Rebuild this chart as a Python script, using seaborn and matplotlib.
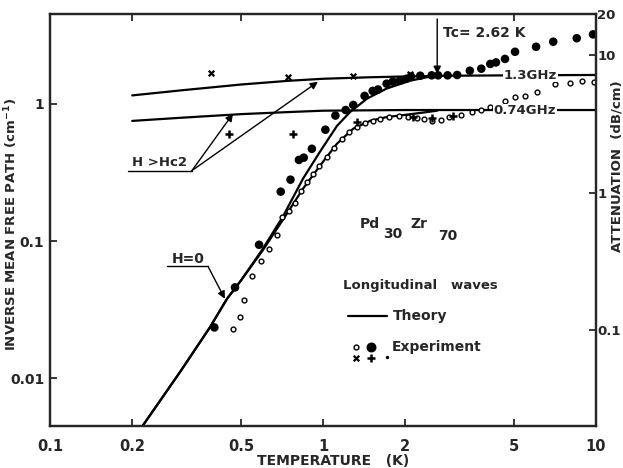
import matplotlib
matplotlib.use('Agg')
import matplotlib.pyplot as plt
import seaborn as sns

sns.set_style('ticks')
plt.rcParams['font.family'] = ['DejaVu Sans']
plt.rcParams['font.weight'] = 'bold'
plt.rcParams['mathtext.fontset'] = 'custom'
plt.rcParams['mathtext.rm'] = 'DejaVu Sans:bold'
plt.rcParams['mathtext.it'] = 'DejaVu Sans:bold'
plt.rcParams['mathtext.bf'] = 'DejaVu Sans:bold'

# Theory, normal state (H > Hc2)
t_norm_13 = [0.2, 0.3, 0.5, 0.75, 1, 1.5, 2, 3, 5, 10]
v_norm_13 = [1.15, 1.25, 1.38, 1.47, 1.52, 1.56, 1.58, 1.6, 1.61, 1.62]
t_norm_074 = [0.2, 0.3, 0.5, 0.75, 1, 2, 5, 10]
v_norm_074 = [0.75, 0.79, 0.84, 0.87, 0.89, 0.9, 0.9, 0.9]

# Theory, superconducting state (H = 0)
t_sc_13 = [0.219, 0.3, 0.385, 0.445, 0.5, 0.6, 0.713, 0.845, 0.975, 1.125, 1.256, 1.45, 1.71, 2.08, 2.4, 2.62]
v_sc_13 = [0.00455, 0.0112, 0.0235, 0.038, 0.0515, 0.087, 0.151, 0.285, 0.448, 0.69, 0.87, 1.09, 1.29, 1.47, 1.56, 1.6]
t_sc_074 = [0.219, 0.3, 0.385, 0.445, 0.5, 0.6, 0.74, 0.845, 0.975, 1.125, 1.29, 1.49, 1.71, 2.0, 2.3, 2.62]
v_sc_074 = [0.00455, 0.0112, 0.0235, 0.038, 0.0515, 0.085, 0.16, 0.241, 0.354, 0.512, 0.658, 0.752, 0.80, 0.83, 0.86, 0.89]

# Experiment, 1.3 GHz, H = 0 (filled circles)
t_exp_13 = [0.40, 0.476, 0.583, 0.70, 0.76, 0.816, 0.85, 0.91, 1.02, 1.11, 1.21, 1.29, 1.42,
            1.52, 1.59, 1.71, 1.80, 1.91, 2.02, 2.1, 2.27, 2.5, 2.64, 2.86, 3.1, 3.45, 3.8,
            4.1, 4.3, 4.64, 5.05, 6.03, 6.97, 8.5, 9.75]
v_exp_13 = [0.0235, 0.046, 0.094, 0.229, 0.28, 0.39, 0.405, 0.47, 0.647, 0.82, 0.90, 0.98, 1.14,
            1.24, 1.27, 1.40, 1.45, 1.47, 1.52, 1.58, 1.60, 1.61, 1.61, 1.61, 1.62, 1.74, 1.80,
            1.95, 2.0, 2.12, 2.39, 2.6, 2.83, 3.0, 3.2]

# Experiment, 0.74 GHz, H = 0 (open circles)
t_exp_074 = [0.468, 0.497, 0.514, 0.548, 0.593, 0.633, 0.68, 0.71, 0.75, 0.79, 0.83, 0.87, 0.92,
             0.97, 1.03, 1.1, 1.17, 1.25, 1.33, 1.42, 1.52, 1.62, 1.75, 1.9, 2.05, 2.2, 2.35,
             2.5, 2.7, 2.9, 3.2, 3.5, 3.8, 4.1, 4.64, 5.05, 5.5, 6.1, 7.1, 8.0, 8.9, 9.8]
v_exp_074 = [0.023, 0.028, 0.037, 0.056, 0.072, 0.087, 0.11, 0.15, 0.165, 0.19, 0.23, 0.27, 0.31,
             0.35, 0.41, 0.48, 0.55, 0.62, 0.68, 0.72, 0.75, 0.78, 0.80, 0.81, 0.80, 0.79, 0.77,
             0.75, 0.76, 0.80, 0.83, 0.87, 0.90, 0.95, 1.05, 1.12, 1.14, 1.22, 1.40, 1.42, 1.47, 1.45]

# Experiment, H > Hc2
t_x_13 = [0.39, 0.745, 1.29, 2.08]
v_x_13 = [1.68, 1.57, 1.6, 1.65]
t_p_074 = [0.453, 0.777, 1.33, 2.14, 2.5, 3.0]
v_p_074 = [0.605, 0.605, 0.74, 0.80, 0.79, 0.82]

x_ticks = [0.1, 0.2, 0.5, 1, 2, 5, 10]
x_labels = ['0.1', '0.2', '0.5', '1', '2', '5', '10']
y_ticks = [0.01, 0.1, 1]
y_labels = ['0.01', '0.1', '1']
y2_ticks = [0.1, 1, 10, 20]
y2_labels = ['0.1', '1', '10', '20']

fig = plt.figure(figsize=(6.23, 4.68), dpi=100)
ax = fig.add_axes([0.0803, 0.0897, 0.8764, 0.8803])
ax.set_xscale('log')
ax.set_yscale('log')

for tx, vy in [(t_norm_13, v_norm_13), (t_norm_074, v_norm_074),
               (t_sc_13, v_sc_13), (t_sc_074, v_sc_074)]:
    sns.lineplot(x=tx, y=vy, ax=ax, color='black', lw=1.6, sort=False, estimator=None, zorder=2)

sns.scatterplot(x=t_exp_13, y=v_exp_13, ax=ax, color='black', s=38, edgecolor='none', zorder=3)
sns.scatterplot(x=t_exp_074, y=v_exp_074, ax=ax, facecolor='white', edgecolor='black',
                s=12, linewidth=1.0, zorder=3)
sns.scatterplot(x=t_x_13, y=v_x_13, ax=ax, color='black', marker='x', s=16, linewidth=1.6, zorder=3)
sns.scatterplot(x=t_p_074, y=v_p_074, ax=ax, color='black', marker='+', s=28, linewidth=1.8, zorder=3)

ax.set_xlim(0.1, 10)
ax.set_ylim(0.0045, 4.5)
ax.set_xticks(x_ticks, labels=x_labels)
ax.set_yticks(y_ticks, labels=y_labels)
ax.minorticks_off()
ax.tick_params(direction='in', length=5, width=1.3, labelsize=10, top=True, pad=4)
ax.tick_params(axis='x', pad=9, labelsize=10.5)
for sp in ax.spines.values():
    sp.set_linewidth(1.6)

ax2 = ax.twinx()
ax2.set_yscale('log')
ax2.set_ylim(0.02, 20)
ax2.set_yticks(y2_ticks, labels=y2_labels)
ax2.minorticks_off()
ax2.tick_params(direction='in', length=5, width=1.3, labelsize=9.5, pad=1)
for sp in ax2.spines.values():
    sp.set_linewidth(1.6)

ax.set_xlabel('TEMPERATURE   (K)', fontsize=10, fontweight='bold')
ax.xaxis.set_label_coords(0.518, -0.068)
ax.set_ylabel('INVERSE MEAN FREE PATH (cm$^{-1}$)', fontsize=9.5, fontweight='bold')
ax.yaxis.set_label_coords(-0.055, 0.49)
ax2.set_ylabel('ATTENUATION  (dB/cm)', fontsize=9.5, fontweight='bold')
ax2.yaxis.set_label_coords(1.0256, 0.63)

arrow = dict(arrowstyle='-|>', color='black', lw=1.0, mutation_scale=11, shrinkA=0, shrinkB=0)

# Tc marker
ax.annotate('', xy=(2.62, 1.65), xytext=(2.62, 4.15), arrowprops=arrow)
ax.text(0.72, 0.954, 'Tc= 2.62 K', transform=ax.transAxes, fontsize=10, ha='left', va='center')

# frequency labels on the normal-state lines
ax.text(0.88, 0.852, '1.3GHz', transform=ax.transAxes, fontsize=9.5, ha='center', va='center',
        bbox=dict(facecolor='white', edgecolor='none', pad=0.5), zorder=4)
ax.text(0.87, 0.765, '0.74GHz', transform=ax.transAxes, fontsize=9.5, ha='center', va='center',
        bbox=dict(facecolor='white', edgecolor='none', pad=0.5), zorder=4)

# H > Hc2 pointer
ax.text(0.15, 0.64, 'H >Hc2', transform=ax.transAxes, fontsize=9.5, ha='left', va='center')
ax.plot([0.193, 0.331], [0.326, 0.326], color='black', lw=1.0)
ax.annotate('', xy=(0.468, 0.846), xytext=(0.331, 0.326), arrowprops=arrow)
ax.annotate('', xy=(0.958, 1.445), xytext=(0.331, 0.326), arrowprops=arrow)

# H = 0 pointer
ax.text(0.223, 0.405, 'H=0', transform=ax.transAxes, fontsize=10, ha='left', va='center')
ax.plot([0.268, 0.379], [0.0654, 0.0654], color='black', lw=1.0)
ax.annotate('', xy=(0.437, 0.038), xytext=(0.379, 0.0654), arrowprops=arrow)

# composition
ax.text(0.568, 0.490, 'Pd', transform=ax.transAxes, fontsize=10, ha='left', va='center')
ax.text(0.610, 0.466, '30', transform=ax.transAxes, fontsize=10, ha='left', va='center')
ax.text(0.660, 0.490, 'Zr', transform=ax.transAxes, fontsize=10, ha='left', va='center')
ax.text(0.710, 0.461, '70', transform=ax.transAxes, fontsize=10, ha='left', va='center')

# key
ax.text(0.537, 0.342, 'Longitudinal   waves', transform=ax.transAxes, fontsize=9.5, ha='left', va='center')
ax.plot([0.546, 0.617], [0.267, 0.267], transform=ax.transAxes, color='black', lw=1.6)
ax.text(0.628, 0.267, 'Theory', transform=ax.transAxes, fontsize=10, ha='left', va='center')
ax.scatter([0.560], [0.192], transform=ax.transAxes, s=12, facecolor='white', edgecolor='black', lw=1.0)
ax.scatter([0.588], [0.192], transform=ax.transAxes, s=38, color='black')
ax.scatter([0.560], [0.165], transform=ax.transAxes, s=16, marker='x', color='black', lw=1.6)
ax.scatter([0.588], [0.165], transform=ax.transAxes, s=28, marker='+', color='black', lw=1.8)
ax.scatter([0.617], [0.167], transform=ax.transAxes, s=2, color='black')
ax.text(0.626, 0.192, 'Experiment', transform=ax.transAxes, fontsize=10, ha='left', va='center')

fig.savefig('out.png', dpi=100)
